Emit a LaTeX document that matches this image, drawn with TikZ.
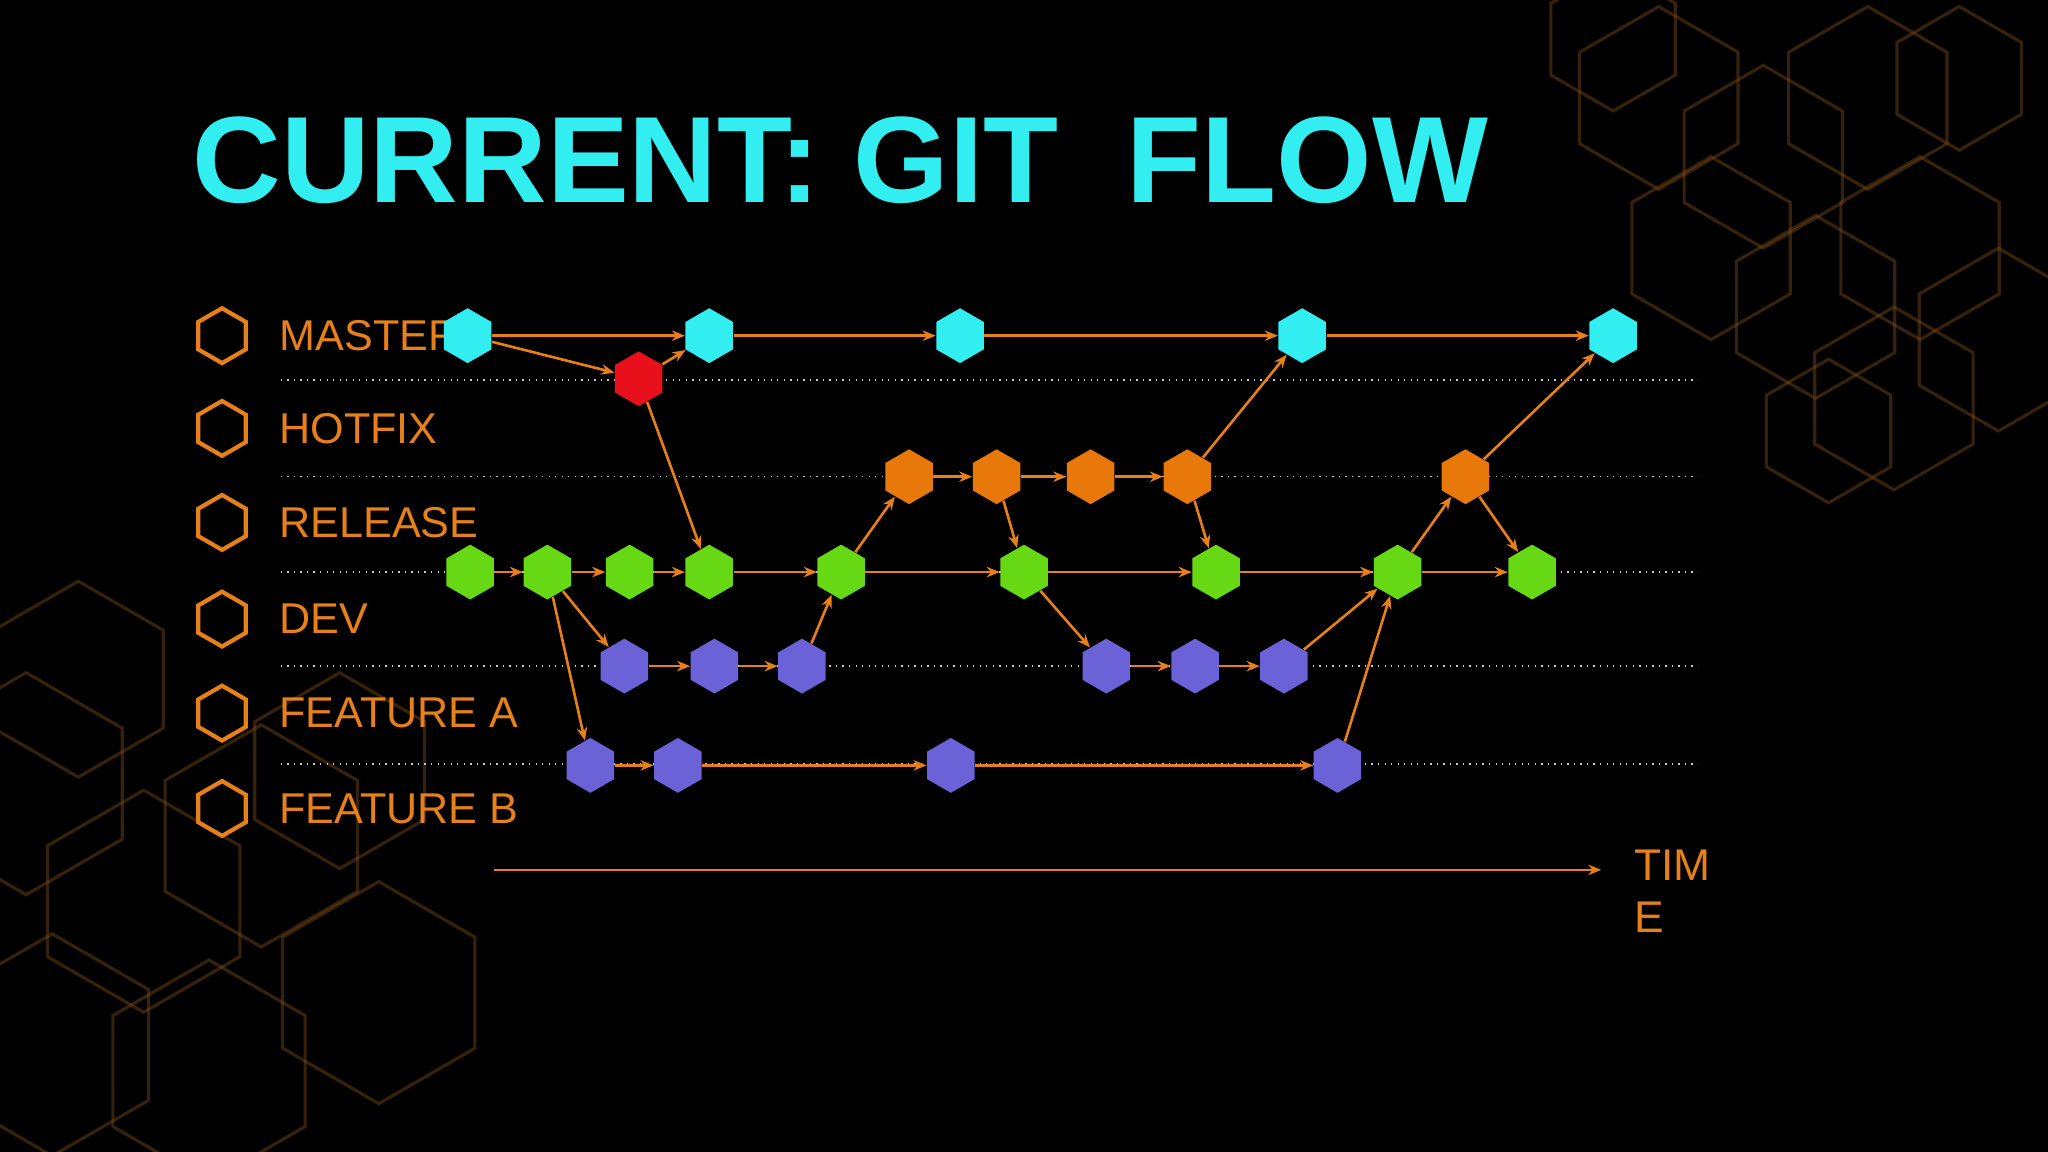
\documentclass[tikz,border=0pt]{standalone}
\usepackage{fontspec}
\setmainfont{Liberation Sans}
\usetikzlibrary{shapes.geometric,arrows.meta}
\definecolor{tcyan}{HTML}{33EEF0}
\definecolor{torange}{HTML}{E8801A}
\definecolor{hred}{HTML}{E8101A}
\definecolor{horange}{HTML}{E8780A}
\definecolor{hgreen}{HTML}{66D814}
\definecolor{hpurple}{HTML}{6A62D6}
\definecolor{bghex}{HTML}{7A4A1A}
\tikzset{
 hx/.style={regular polygon,regular polygon sides=6,shape border rotate=30,minimum size=21pt,inner sep=0pt,draw=none,fill=#1},
 lg/.style={regular polygon,regular polygon sides=6,shape border rotate=30,minimum size=21pt,inner sep=0pt,draw=torange,line width=1.6pt},
 ar/.style={draw=torange,line width=1pt,-{Stealth[length=5pt,width=4pt]}},
 lab/.style={text=torange,font=\fontsize{16.5}{19}\selectfont,anchor=west},
 lane/.style={draw=white!80!black,line width=0.5pt,dotted},
 bh/.style={regular polygon,regular polygon sides=6,shape border rotate=30,inner sep=0pt,draw=bghex,line width=1.2pt,opacity=0.45}
}
\begin{document}
\begin{tikzpicture}[x=0.5pt,y=-0.5pt]
\fill[black] (0,0) rectangle (1568,882);
\useasboundingbox (0,0) rectangle (1568,882);
% background hexagons
\foreach \x/\y/\s in {1270/75/70,1350/120/70,1430/75/70,1310/190/70,1390/235/70,1470/190/70,1450/305/70,1530/260/70,1235/30/55,1500/60/55,1400/330/55}
  \node[bh,minimum size=\s] at (\x,\y) {};
\foreach \x/\y/\s in {20/600/85,110/690/85,200/640/85,40/800/85,160/820/85,290/760/85,60/520/75,260/590/75}
  \node[bh,minimum size=\s] at (\x,\y) {};
% title
\node[anchor=base west,text=tcyan,font=\bfseries\fontsize{47}{52}\selectfont,inner sep=0pt] (title) at (147,155) {CURRENT: GIT\ \ FLOW};
% lanes
\foreach \y in {291,365,438,510,585} \draw[lane] (215,\y) -- (1300,\y);
% legend
\foreach \y/\t [count=\i] in {257/MASTER,328/HOTFIX,400/RELEASE,474/DEV,546/FEATURE A,619/FEATURE B}{
  \node[lg] (lg\i) at (170,\y) {};
  \node[lab] (lt\i) at (207,\y) {\t};
}
% nodes
\foreach \x [count=\i] in {358,543,735,997,1235} \node[hx=tcyan] (M\i) at (\x,257) {};
\node[hx=hred] (H) at (489,290) {};
\foreach \x [count=\i] in {696,763,835,909,1122} \node[hx=horange] (R\i) at (\x,365) {};
\foreach \x [count=\i] in {360,419,482,543,644,784,931,1070,1173} \node[hx=hgreen] (D\i) at (\x,438) {};
\foreach \x [count=\i] in {478,547,614,847,915,983} \node[hx=hpurple] (A\i) at (\x,510) {};
\foreach \x [count=\i] in {452,519,728,1024} \node[hx=hpurple] (B\i) at (\x,586) {};
% edges
\foreach \a/\b in {M1/M2,M2/M3,M3/M4,M4/M5,M1/H,H/M2,H/D4,D1/D2,D2/D3,D3/D4,D4/D5,D5/D6,D6/D7,D7/D8,D8/D9,D2/A1,D2/B1,A1/A2,A2/A3,A3/D5,D5/R1,R1/R2,R2/R3,R3/R4,R2/D6,R4/M4,R4/D7,D6/A4,A4/A5,A5/A6,A6/D8,B1/B2,B2/B3,B3/B4,B4/D8,D8/R5,R5/M5,R5/D9}
  \draw[ar] (\a) -- (\b);
% time
\coordinate (t0) at (378,666);
\node[text=torange,font=\fontsize{17}{20}\selectfont,align=left,anchor=north west,inner sep=0pt] (time) at (1251,650) {TIM\\E};
\draw[ar] (t0) -- (1226,666);
\end{tikzpicture}
\end{document}
